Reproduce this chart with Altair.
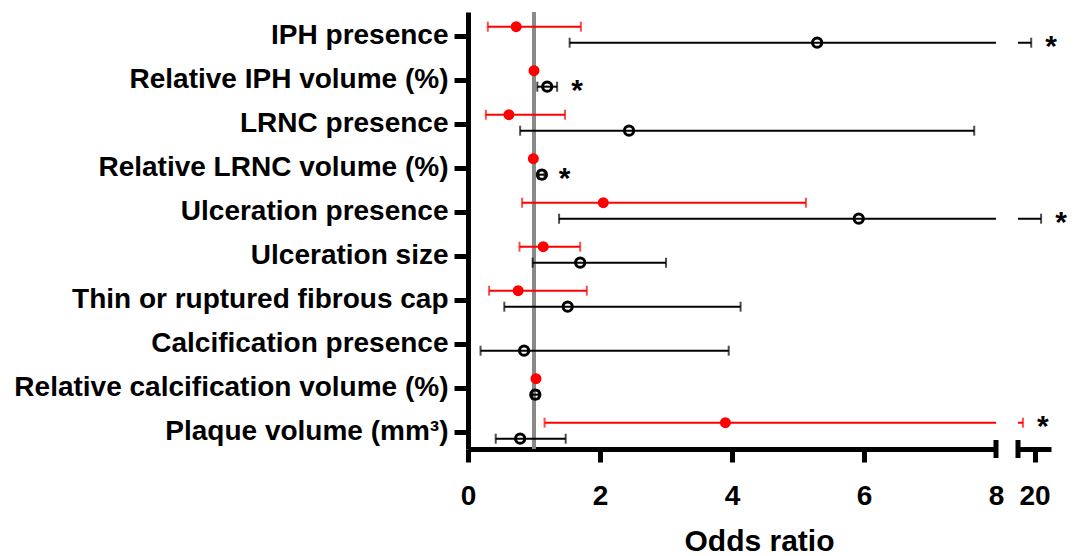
import altair as alt
import pandas as pd

categories = [
    "IPH presence",
    "Relative IPH volume (%)",
    "LRNC presence",
    "Relative LRNC volume (%)",
    "Ulceration presence",
    "Ulceration size",
    "Thin or ruptured fibrous cap",
    "Calcification presence",
    "Relative calcification volume (%)",
    "Plaque volume (mm³)",
]

red_or = [0.73, 1.00, 0.62, 0.99, 2.05, 1.14, 0.76, None, 1.03, 3.90]
red_lo = [0.30, 0.99, 0.27, 0.98, 0.82, 0.78, 0.32, None, 1.02, 1.16]
red_hi = [1.71, 1.01, 1.47, 1.00, 5.12, 1.70, 1.80, None, 1.04, 19.3]
red_sig = [False, False, False, False, False, False, False, False, False, True]

black_or = [5.29, 1.20, 2.44, 1.12, 5.92, 1.70, 1.51, 0.85, 1.02, 0.79]
black_lo = [1.54, 1.05, 0.79, 1.07, 1.38, 0.98, 0.55, 0.19, 0.97, 0.42]
black_hi = [19.8, 1.35, 7.67, 1.16, 20.4, 3.00, 4.13, 3.95, 1.07, 1.48]
black_sig = [True, True, False, True, True, False, False, False, False, False]

reference = [1]
axis_break = [8, 19]

rows = []
for grp, o, l, h, s in (("red", red_or, red_lo, red_hi, red_sig),
                        ("black", black_or, black_lo, black_hi, black_sig)):
    for c, oo, ll, hh, ss in zip(categories, o, l, h, s):
        if oo is None:
            continue
        rows.append({"category": c, "group": grp, "or": oo, "lo": ll, "hi": hh, "sig": ss})
df = pd.DataFrame(rows)

FONT = "Liberation Sans"
RED = "#ff0000"
BLACK = "#000000"
H = 437

yscale = alt.Scale(type="point", domain=categories, padding=0.466, align=0.585)


def make_panel(domain, ticks, width, left):
    xscale = alt.Scale(domain=domain, nice=False, zero=False)
    if left:
        xaxis = alt.Axis(
            values=ticks, tickSize=13, labelPadding=20, labelFlush=False,
            tickOpacity={"condition": {"test": "datum.value === 8", "value": 0}, "value": 1},
            title="Odds ratio", titleFont=FONT, titleFontSize=30, titleFontWeight="bold",
            titleColor=BLACK, titleX=291, titleY=92, titleBaseline="middle", titleAlign="center",
        )
        yaxis = alt.Axis(tickSize=14, labelPadding=6, labelLimit=800, title=None)
    else:
        xaxis = alt.Axis(values=ticks, tickSize=13, labelPadding=20, labelFlush=False, title=None)
        yaxis = None

    def X(field):
        return alt.X(f"{field}:Q", scale=xscale, axis=xaxis)

    Y = alt.Y("category:N", scale=yscale, axis=yaxis, sort=categories)

    layers = []
    if left:
        layers.append(
            alt.Chart(pd.DataFrame({"ref": reference}))
            .mark_rule(color="#8a8a8a", strokeWidth=4)
            .encode(x=X("ref"))
        )
    star_test = "datum.sig && datum.hi <= 8" if left else "datum.sig && datum.hi > 8"
    for grp, color, off in (("red", RED, -9.3), ("black", BLACK, 6.7)):
        base = alt.Chart(df).transform_filter(f"datum.group === '{grp}'")
        layers.append(base.mark_rule(color=color, strokeWidth=2, clip=True, yOffset=off)
                      .encode(x=X("lo"), x2="hi:Q", y=Y))
        layers.append(base.mark_tick(color=color, thickness=2, size=10, orient="vertical",
                                     clip=True, yOffset=off)
                      .encode(x=X("lo"), y=Y))
        layers.append(base.mark_tick(color=color, thickness=2, size=10, orient="vertical",
                                     clip=True, yOffset=off)
                      .encode(x=X("hi"), y=Y))
        if grp == "red":
            layers.append(base.mark_point(shape="circle", filled=True, size=120, color=RED,
                                          opacity=1, clip=True, yOffset=off)
                          .encode(x=X("or"), y=Y))
        else:
            layers.append(base.mark_point(shape="circle", filled=False, size=85, color=BLACK,
                                          strokeWidth=3, opacity=1, clip=True, yOffset=off)
                          .encode(x=X("or"), y=Y))
        layers.append(base.transform_filter(star_test)
                      .mark_text(text="*", font=FONT, fontSize=30, fontWeight="bold",
                                 color=BLACK, dx=20, dy=13, baseline="alphabetic",
                                 yOffset=off)
                      .encode(x=X("hi"), y=Y))
    brk = axis_break[0] if left else axis_break[1]
    layers.append(
        alt.Chart(pd.DataFrame({"brk": [brk]}))
        .mark_rule(color=BLACK, strokeWidth=5)
        .encode(x=X("brk"), y=alt.value(H - 9), y2=alt.value(H + 9))
    )
    return alt.layer(*layers).properties(width=width, height=H)


left_panel = make_panel([0, 8], [0, 2, 4, 6, 8], 528, True)
right_panel = make_panel([19, 21], [20], 33, False)

chart = (
    alt.hconcat(left_panel, right_panel, spacing=22, bounds="flush",
                padding={"left": 5, "top": 2, "right": 5, "bottom": 0})
    .configure_view(stroke=None)
    .configure_axis(
        labelFont=FONT, labelFontSize=28, labelFontWeight="bold", labelColor=BLACK,
        domainColor=BLACK, domainWidth=5, tickColor=BLACK, tickWidth=5, grid=False,
    )
)

chart.save("out.html", embed_options={"renderer": "svg", "actions": False})
